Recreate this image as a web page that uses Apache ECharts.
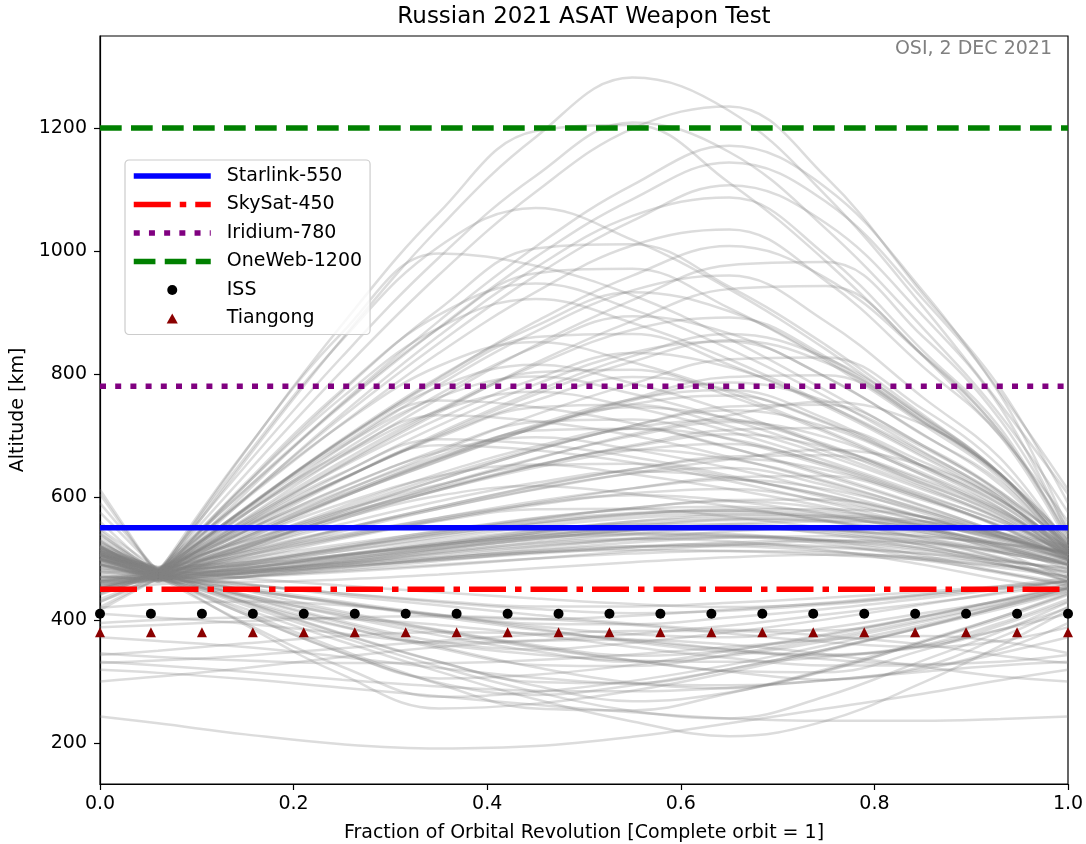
<!DOCTYPE html>
<html>
<head>
<meta charset="utf-8">
<script src="https://cdn.jsdelivr.net/npm/echarts@6/dist/echarts.min.js"></script>
<style>
html,body{margin:0;padding:0;background:#ffffff;}
#chart{width:1086px;height:844px;}
</style>
</head>
<body>
<div id="chart"></div>
<script>
// ---------- DATA ----------
// orbit-fraction positions at which each debris altitude curve was read
const SAMPLE_X = [0, 0.06, 0.15, 0.25, 0.35, 0.45, 0.55, 0.65, 0.75, 0.85, 0.93, 1.0];

// debris curves with apogee above ~840 km
const HIGH_CURVES = [
  [605,470,659,857,1037,1185,1282,1228,1090,910,751,605],
  [590,478,636,805,961,1096,1199,1235,1120,930,777,590],
  [560,472,674,880,1062,1195,1205,1111,983,830,700,560],
  [575,480,650,828,989,1122,1209,1161,1036,875,733,575],
  [612,470,606,753,886,1007,1107,1171,1103,935,770,612],
  [548,482,611,749,875,990,1084,1144,1080,922,766,548],
  [540,476,599,730,850,960,1049,1107,1045,895,746,540],
  [530,468,597,735,862,973,1057,1087,993,838,712,530],
  [515,474,664,855,1007,1070,1018,938,840,729,636,515],
  [525,480,596,719,834,933,1009,1035,951,812,699,525],
  [512,470,619,771,905,1004,1011,942,847,734,638,512],
  [535,478,581,692,793,885,960,1008,956,830,705,535],
  [545,472,565,667,760,847,920,977,982,861,725,545],
  [508,476,612,751,874,964,971,907,821,718,630,508],
  [520,470,572,681,782,869,936,960,885,762,663,520],
  [505,478,619,762,875,922,883,824,751,668,599,505],
  [510,474,572,674,767,844,894,866,795,702,620,510],
  [515,468,545,628,704,772,829,865,826,731,638,515],
  [500,480,598,718,813,852,819,770,708,639,581,500],
  [512,476,555,638,716,783,835,853,795,701,625,512],
  [522,472,537,608,673,734,784,824,827,743,649,522],
  [505,476,675,867,996,976,928,857,773,684,606,505],
  [502,470,622,774,896,947,905,841,763,674,599,502],
  [540,470,557,651,737,818,886,938,943,831,705,540],
  [518,476,582,694,795,878,933,902,824,723,634,518],
  [520,472,560,653,740,814,872,892,828,723,638,520]
];

// debris curves with apogee between ~580 and ~880 km
const MID_CURVES = [
  [519,470,563,658,742,803,807,764,705,635,575,519],
  [510,478,552,629,699,757,795,774,720,650,588,510],
  [518,474,535,600,659,713,757,786,756,681,608,518],
  [510,466,530,599,662,717,759,774,727,650,588,510],
  [517,480,573,666,740,771,746,707,659,605,559,517],
  [520,470,521,577,628,676,716,747,750,684,609,520],
  [508,484,545,609,667,715,746,728,684,626,575,508],
  [505,462,516,575,628,676,716,741,714,647,582,505],
  [512,476,545,615,677,722,726,694,650,598,554,512],
  [500,470,523,580,633,678,713,725,686,622,571,500],
  [515,480,522,569,611,651,684,709,712,657,595,515],
  [507,468,525,584,638,682,711,695,653,600,552,507],
  [512,486,528,573,614,652,682,702,681,629,579,512],
  [500,472,544,616,673,697,677,647,610,568,533,500],
  [505,478,521,568,611,648,676,686,654,602,560,505],
  [497,462,512,564,612,651,677,662,626,578,536,497],
  [508,474,510,548,584,617,645,666,668,622,570,508],
  [498,470,507,548,584,618,645,662,644,598,552,498],
  [507,482,529,578,620,651,654,632,602,566,535,507],
  [499,466,504,544,581,613,638,647,619,574,537,499],
  [505,478,516,556,593,623,642,631,603,567,535,505],
  [500,468,498,532,562,590,614,632,634,595,551,500],
  [507,476,506,537,566,593,614,628,613,577,541,507],
  [489,470,517,565,602,618,605,585,561,533,510,489],
  [508,484,511,539,566,589,606,613,593,561,535,508],
  [493,472,502,534,563,587,603,594,572,543,517,493],
  [506,478,500,523,544,565,582,595,596,568,537,506],
  [490,464,489,516,541,563,582,593,581,550,519,490],
  [491,476,505,535,561,580,581,568,549,527,509,491],
  [490,470,493,517,539,558,573,578,562,534,513,490],
  [530,476,535,600,658,713,760,795,798,722,636,530],
  [503,470,580,686,757,746,720,681,634,585,542,503],
  [508,478,576,670,733,723,700,665,624,580,542,508],
  [491,466,550,630,684,676,656,626,591,553,521,491],
  [525,480,562,649,727,792,834,811,750,672,603,525],
  [506,468,517,570,619,663,699,722,697,636,577,506],
  [515,482,541,604,662,712,751,765,722,651,593,515],
  [498,476,532,589,634,653,637,613,584,552,524,498],
  [528,472,519,570,617,662,702,733,755,718,637,528],
  [512,480,513,548,581,612,639,661,677,651,595,512],
  [515,474,582,692,789,860,865,815,747,665,596,515],
  [505,470,580,691,779,815,785,739,682,618,564,505],
  [505,480,554,630,697,746,750,715,668,612,564,505],
  [498,472,557,639,694,686,665,635,599,561,528,498],
  [505,480,580,682,762,796,768,726,674,615,566,505],
  [501,466,534,602,663,708,711,680,637,586,542,501],
  [520,476,550,629,701,767,820,855,818,728,638,520]
];

// debris curves staying in the dense 450-590 km band
const BAND_CURVES = [
  [480,470,478,492,508,522,532,536,530,515,498,480],
  [470,468,472,480,490,500,508,512,510,500,485,470],
  [495,475,485,505,525,545,560,566,560,543,520,495],
  [460,462,470,485,500,513,520,520,512,497,478,460],
  [500,478,490,512,535,556,570,575,568,548,525,500],
  [485,472,476,486,498,510,518,522,518,508,496,485],
  [455,465,478,498,518,534,542,540,528,505,478,455],
  [510,480,488,505,522,538,549,553,548,536,524,510],
  [465,470,484,506,528,546,556,556,545,522,492,465],
  [490,474,480,494,510,526,540,550,552,540,516,490],
  [475,468,470,478,488,500,512,522,528,524,502,475],
  [505,478,486,500,516,532,546,556,560,555,534,505],
  [450,458,470,490,510,525,532,528,514,490,466,450],
  [520,484,496,520,545,566,580,584,576,560,542,520],
  [478,476,482,492,502,510,514,512,506,498,488,478],
  [462,466,476,494,514,532,546,552,548,530,500,462],
  [498,482,490,506,524,542,556,564,566,556,530,498],
  [470,472,484,504,524,542,552,552,540,516,490,470],
  [488,470,474,486,500,514,526,534,536,528,510,488],
  [515,486,494,512,532,552,566,572,570,560,540,515],
  [458,466,476,494,514,530,538,536,524,500,476,458],
  [482,474,480,496,516,536,552,562,562,548,518,482],
  [472,464,462,466,474,484,494,502,506,502,490,472],
  [495,478,480,488,498,508,518,526,530,526,512,495],
  [468,470,480,498,520,542,560,570,568,548,510,468],
  [505,476,492,518,542,562,574,578,572,556,532,505],
  [478,470,476,490,506,520,530,534,530,518,500,478],
  [462,468,482,502,522,538,548,550,542,522,494,462],
  [512,482,490,506,522,536,546,550,546,536,524,512],
  [490,472,476,488,502,518,532,544,550,546,522,490],
  [470,466,470,482,496,510,520,524,520,508,490,470],
  [500,480,494,516,538,558,572,580,580,568,538,500],
  [484,474,484,502,520,534,540,538,528,512,496,484]
];

// debris curves that drop below the collision altitude
const DIP_CURVES = [
  [450,476,392,311,256,264,285,315,350,388,421,450],
  [446,470,409,347,298,278,294,320,352,388,418,446],
  [452,478,428,377,332,299,297,320,352,389,422,452],
  [429,472,424,372,324,283,252,240,276,334,381,429],
  [416,468,418,365,316,271,235,211,236,298,358,416],
  [451,474,441,406,375,349,332,342,366,397,425,451],
  [464,480,439,398,365,352,363,380,401,425,445,464],
  [452,470,449,428,407,390,377,372,387,411,431,452],
  [464,476,453,430,409,394,393,404,418,435,450,464],
  [430,466,438,408,381,355,334,317,315,351,391,430],
  [462,472,458,443,429,418,411,415,425,439,451,462],
  [468,480,468,456,445,435,426,421,427,441,455,468],
  [434,470,449,426,405,384,366,352,342,359,395,434],
  [454,474,409,347,305,311,327,350,377,406,432,454],
  [444,478,429,378,332,293,268,282,318,364,405,444],
  [451,472,432,390,354,327,325,344,370,400,426,451],
  [441,476,437,395,357,323,298,289,317,364,402,441],
  [458,470,429,389,363,367,377,391,409,427,443,458],
  [454,476,459,440,424,408,394,384,383,405,430,454],
  [442,474,413,351,296,256,253,281,320,366,405,442],
  [463,472,449,427,408,401,407,417,428,442,453,463],
  [421,468,441,411,383,357,334,316,303,324,372,421],
  [458,480,448,414,384,359,342,351,375,405,432,458],
  [447,470,395,324,275,283,301,327,359,392,421,447],
  [463,470,457,443,431,422,422,428,436,446,455,463]
];

// debris curves lying wholly below ~430 km
const LOW_CURVES = [
  [243,232,214,198,191,195,210,232,256,280,302,319],
  [319,314,304,290,276,262,250,240,236,236,239,243],
  [343,350,362,374,380,378,368,352,336,328,332,343],
  [332,326,316,303,292,285,284,290,302,316,326,332],
  [395,400,404,402,392,376,356,338,326,326,352,395],
  [346,340,334,330,330,335,344,356,368,374,365,346],
  [372,366,356,340,322,306,296,294,302,320,346,372],
  [410,404,394,378,360,344,334,332,340,358,384,410],
  [300,308,322,340,356,366,368,360,344,324,308,300],
  [388,392,398,404,406,402,392,378,364,356,366,388],
  [330,334,342,354,366,376,382,382,374,360,342,330],
  [420,426,430,424,408,386,364,348,344,356,384,420]
];

// reference constellation shells
const SHELL_NAMES = ['Starlink-550', 'SkySat-450', 'Iridium-780', 'OneWeb-1200'];
const SHELL_ALT = [550, 450, 780, 1200];
const SHELL_X = [0, 1];

// crewed stations
const STATION_X = [0, 0.0526, 0.1053, 0.1579, 0.2105, 0.2632, 0.3158, 0.3684, 0.4211, 0.4737,
                   0.5263, 0.5789, 0.6316, 0.6842, 0.7368, 0.7895, 0.8421, 0.8947, 0.9474, 1];
const ISS_ALT = [410,410,410,410,410,410,410,410,410,410,410,410,410,410,410,410,410,410,410,410];
const TIANGONG_ALT = [380,380,380,380,380,380,380,380,380,380,380,380,380,380,380,380,380,380,380,380];

// axis ticks
const Y_TICKS = [200, 400, 600, 800, 1000, 1200];
const X_TICK_STEP = 0.2;

// ---------- CHART ----------
const FONT = 'DejaVu Sans';
const chart = echarts.init(document.getElementById('chart'), null, { renderer: 'canvas' });

const curveStyle = { color: 'rgba(128,128,128,0.28)', width: 2.5 };
function curveLine(points) {
  return {
    type: 'line', name: 'debris', data: points,
    smooth: 0.4, symbol: 'none', silent: true, z: 1,
    lineStyle: curveStyle
  };
}
const curveSeries = [];
// curves through the collision point: separate pieces either side of it (sharp pinch)
[].concat(HIGH_CURVES, MID_CURVES, BAND_CURVES, DIP_CURVES).forEach(vals => {
  const pts = vals.map((v, j) => [SAMPLE_X[j], v]);
  curveSeries.push(curveLine(pts.slice(0, 2)));
  curveSeries.push(curveLine(pts.slice(1)));
});
LOW_CURVES.forEach(vals => {
  curveSeries.push(curveLine(vals.map((v, j) => [SAMPLE_X[j], v])));
});

const shellStyles = [
  { color: '#0000ff', width: 5.5, type: 'solid' },
  { color: '#ff0000', width: 5.5, type: [37, 9, 6.5, 9] },
  { color: '#800080', width: 5.5, type: [6, 9.2] },
  { color: '#008000', width: 5.5, type: [21.7, 9.3] }
];
const shellSeries = SHELL_NAMES.map((nm, i) => ({
  type: 'line',
  name: nm,
  data: SHELL_X.map(x => [x, SHELL_ALT[i]]),
  symbol: 'none',
  silent: true,
  z: 3,
  itemStyle: { color: shellStyles[i].color },
  lineStyle: shellStyles[i]
}));

const stationSeries = [
  {
    type: 'scatter', name: 'ISS',
    data: STATION_X.map((x, i) => [x, ISS_ALT[i]]),
    symbol: 'circle', symbolSize: 10, z: 4, silent: true,
    itemStyle: { color: '#000000', opacity: 1 }
  },
  {
    type: 'scatter', name: 'Tiangong',
    data: STATION_X.map((x, i) => [x, TIANGONG_ALT[i]]),
    symbol: 'triangle', symbolSize: 10, z: 4, silent: true,
    itemStyle: { color: '#8b0000', opacity: 1 }
  }
];

chart.setOption({
  animation: false,
  textStyle: { fontFamily: FONT },
  title: [
    {
      text: 'Russian 2021 ASAT Weapon Test',
      left: 584, top: 6, textAlign: 'center', padding: 0,
      textStyle: { fontFamily: FONT, fontSize: 23, fontWeight: 'normal', color: '#000' }
    },
    {
      text: 'OSI, 2 DEC 2021',
      right: 34, top: 40, padding: 0,
      textStyle: { fontFamily: FONT, fontSize: 19, fontWeight: 'normal', color: '#808080' }
    }
  ],
  legend: {
    data: [
      { name: 'Starlink-550', itemStyle: { opacity: 0 } },
      { name: 'SkySat-450', itemStyle: { opacity: 0 } },
      { name: 'Iridium-780', itemStyle: { opacity: 0 } },
      { name: 'OneWeb-1200', itemStyle: { opacity: 0 } },
      { name: 'ISS', icon: 'circle' },
      { name: 'Tiangong', icon: 'path://M0,0 L5,-9 L10,0 Z' }
    ],
    orient: 'vertical', left: 125, top: 160,
    itemWidth: 77, itemHeight: 10, itemGap: 8.5,
    padding: [6, 8, 6, 6],
    backgroundColor: 'rgba(255,255,255,0.8)',
    borderColor: '#cccccc', borderWidth: 1.2, borderRadius: 4,
    selectedMode: false,
    symbolKeepAspect: true,
    lineStyle: { width: 'inherit' },
    z: 10,
    textStyle: { fontFamily: FONT, fontSize: 19, color: '#000', lineHeight: 20, padding: [0, 0, 0, 11] }
  },
  grid: {
    left: 100, right: 18, top: 36, bottom: 60,
    containLabel: false, outerBoundsMode: 'none',
    show: true, borderColor: '#000', borderWidth: 1.2, backgroundColor: 'transparent'
  },
  xAxis: {
    type: 'value', min: 0, max: 1, interval: X_TICK_STEP,
    name: 'Fraction of Orbital Revolution [Complete orbit = 1]',
    nameLocation: 'middle', nameGap: 40,
    nameTextStyle: { fontFamily: FONT, fontSize: 19, color: '#000' },
    axisLine: { show: true, lineStyle: { color: '#000', width: 1.2 } },
    axisTick: { show: true, inside: false, length: 6, lineStyle: { color: '#000', width: 1.2 } },
    axisLabel: { fontFamily: FONT, fontSize: 19, color: '#000', margin: 11, formatter: v => v.toFixed(1) },
    splitLine: { show: false }
  },
  yAxis: {
    type: 'value', min: 133.3, max: 1349.6,
    name: 'Altitude [km]', nameLocation: 'middle', nameGap: 68,
    nameTextStyle: { fontFamily: FONT, fontSize: 19, color: '#000' },
    axisLine: { show: true, lineStyle: { color: '#000', width: 1.2 } },
    axisTick: { show: true, inside: false, length: 6, customValues: Y_TICKS, lineStyle: { color: '#000', width: 1.2 } },
    axisLabel: { fontFamily: FONT, fontSize: 19, color: '#000', margin: 13, customValues: Y_TICKS, formatter: v => String(v) },
    splitLine: { show: false }
  },
  series: curveSeries.concat(shellSeries, stationSeries)
});
</script>
</body>
</html>
